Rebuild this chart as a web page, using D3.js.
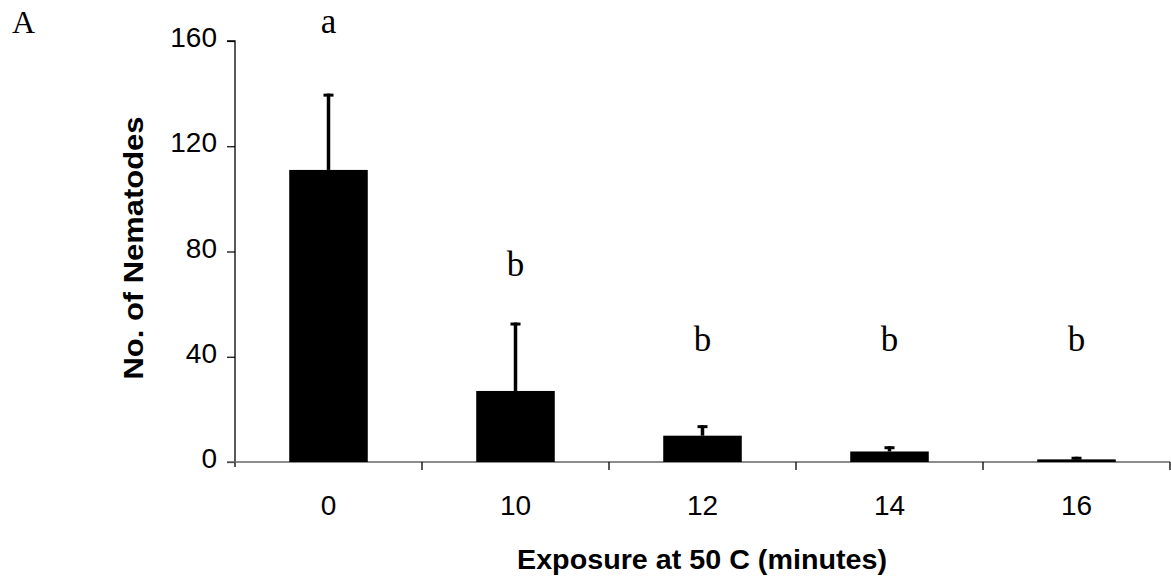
<!DOCTYPE html>
<html><head><meta charset="utf-8">
<script src="https://cdn.jsdelivr.net/npm/d3@7"></script>
<style>body{margin:0;background:#fff}svg{display:block}</style>
</head><body>
<svg id="chart" width="1171" height="582"></svg>
<script>
const categories = ["0", "10", "12", "14", "16"];
const means = [111, 27, 10, 4, 1];
const errors = [29, 26, 4, 2, 1];
const letters = ["a", "b", "b", "b", "b"];
const letterValues = [163, 70.7, 42.2, 42.2, 42.2];
const yTicks = [0, 40, 80, 120, 160];

const svg = d3.select("#chart");
const x0 = 235, x1 = 1170, yTop = 41, yBot = 462;
const x = d3.scaleBand().domain(categories).range([x0, x1]).paddingInner(0.58).paddingOuter(0.29);
const y = d3.scaleLinear().domain([0, 160]).range([yBot, yTop]);
const sans = "Liberation Sans, Arial, sans-serif";
const serif = "Liberation Serif, Times New Roman, serif";

// y axis
const yAxis = svg.append("g").attr("transform", `translate(${x0},0)`)
  .call(d3.axisLeft(y).tickValues(yTicks).tickSize(8).tickPadding(10));
yAxis.select(".domain").attr("stroke", "#000").attr("stroke-width", 1.3).attr("d", `M-8,${yTop}H0V${yBot + 5}`);
yAxis.selectAll(".tick line").attr("stroke", "#000").attr("stroke-width", 1.2);
yAxis.selectAll("text").attr("font-family", sans).attr("font-size", 28).attr("fill", "#000").attr("dy", "0.2em");

// x axis line and boundary ticks
const bounds = [x0];
categories.forEach((c, i) => bounds.push(x0 + (x1 - x0) * (i + 1) / categories.length));
svg.append("line").attr("x1", x0 - 8).attr("x2", x1).attr("y1", yBot).attr("y2", yBot)
  .attr("stroke", "#666").attr("stroke-width", 1.5);
svg.selectAll(".xt").data(bounds.slice(1)).enter().append("line")
  .attr("x1", d => d).attr("x2", d => d).attr("y1", yBot).attr("y2", yBot + 8)
  .attr("stroke", "#000").attr("stroke-width", 1.3);
svg.selectAll(".xl").data(categories).enter().append("text")
  .attr("x", d => x(d) + x.bandwidth() / 2).attr("y", 515)
  .attr("text-anchor", "middle").attr("font-family", sans)
  .attr("font-size", 28).text(d => d);

// bars
svg.selectAll(".bar").data(categories).enter().append("rect")
  .attr("x", d => x(d)).attr("width", x.bandwidth())
  .attr("y", (d, i) => y(means[i])).attr("height", (d, i) => yBot - y(means[i]))
  .attr("fill", "#000");

// error bars
categories.forEach((c, i) => {
  const cx = x(c) + x.bandwidth() / 2;
  svg.append("line").attr("x1", cx).attr("x2", cx).attr("y1", y(means[i])).attr("y2", y(means[i] + errors[i]))
    .attr("stroke", "#000").attr("stroke-width", 3.5);
  svg.append("line").attr("x1", cx - 5).attr("x2", cx + 5).attr("y1", y(means[i] + errors[i]) + 1.5).attr("y2", y(means[i] + errors[i]) + 1.5)
    .attr("stroke", "#000").attr("stroke-width", 3);
});

// significance letters
svg.selectAll(".let").data(categories).enter().append("text")
  .attr("x", d => x(d) + x.bandwidth() / 2).attr("y", (d, i) => y(letterValues[i]))
  .attr("text-anchor", "middle")
  .attr("font-family", serif).attr("font-size", 35)
  .text((d, i) => letters[i]);

// panel label
svg.append("text").attr("x", 12).attr("y", 33).attr("font-family", serif)
  .attr("font-size", 32).text("A");

// axis titles
svg.append("text").attr("x", 702).attr("y", 569).attr("text-anchor", "middle")
  .attr("font-family", sans).attr("font-weight", "bold").attr("font-size", 27)
  .attr("textLength", 370).attr("lengthAdjust", "spacingAndGlyphs")
  .text("Exposure at 50 C (minutes)");
svg.append("text").attr("transform", "translate(143,248) rotate(-90)").attr("text-anchor", "middle")
  .attr("font-family", sans).attr("font-weight", "bold").attr("font-size", 28)
  .attr("textLength", 263).attr("lengthAdjust", "spacingAndGlyphs")
  .text("No. of Nematodes");
</script>
</body></html>
